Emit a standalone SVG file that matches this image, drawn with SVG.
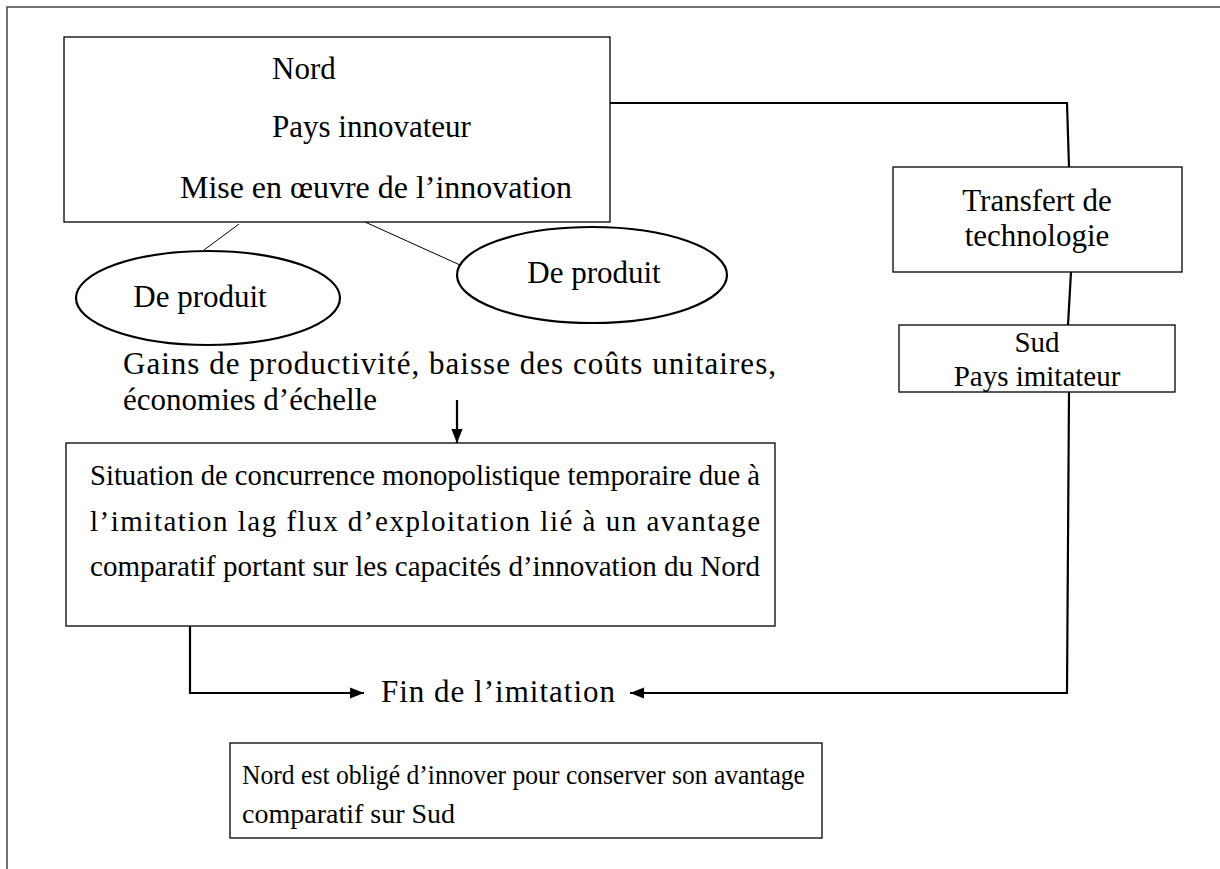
<svg xmlns="http://www.w3.org/2000/svg" width="1220" height="869" viewBox="0 0 1220 869">
<defs>
<style>
.box{fill:#fff;stroke:#000;stroke-width:1.3}
.ell{fill:#fff;stroke:#000;stroke-width:2.2}
.c{text-anchor:middle}
.ln{fill:none;stroke:#000;stroke-width:2.2}
.thin{fill:none;stroke:#000;stroke-width:1}
text{font-family:'Liberation Serif','Times New Roman','Noto Serif','DejaVu Serif',serif;font-size:31px;fill:#000}
.s29{font-size:29px}
.s28{font-size:28px}
</style>
<marker id="ah2" viewBox="0 0 10 10" refX="10" refY="5" markerWidth="14" markerHeight="14" markerUnits="userSpaceOnUse" orient="auto">
<path d="M0,1 L10,5 L0,9 z" fill="#000"/>
</marker>
</defs>
<rect width="1220" height="869" fill="#fff"/>
<path d="M7,869 V7 H1220" fill="none" stroke="#444" stroke-width="1.5"/>

<g id="connectors">
<path class="ln" d="M610,103 H1067 L1069,167"/>
<path class="ln" d="M1071,272 L1068,325"/>
<path class="ln" d="M1069,392 L1067,693 H630" marker-end="url(#ah2)"/>
<path class="ln" d="M190,626 V693 H364" marker-end="url(#ah2)"/>
<path class="ln" d="M457,400 V443" marker-end="url(#ah2)"/>
<line class="thin" x1="239" y1="224" x2="204" y2="250"/>
<line class="thin" x1="365" y1="222" x2="460" y2="265"/>
</g>

<g id="nord">
<rect class="box" x="64" y="37" width="546" height="185"/>
<text x="272" y="79">Nord</text>
<text x="272" y="137">Pays innovateur</text>
<text x="180" y="198" textLength="392" lengthAdjust="spacingAndGlyphs">Mise en œuvre de l’innovation</text>
</g>

<g id="produit1">
<ellipse class="ell" cx="208" cy="298" rx="132" ry="47"/>
<text class="c" x="200" y="307">De produit</text>
</g>

<g id="produit2">
<ellipse class="ell" cx="592" cy="275" rx="135" ry="48"/>
<text class="c" x="594" y="283">De produit</text>
</g>

<g id="transfert">
<rect class="box" x="893" y="167" width="289" height="105"/>
<text class="c" x="1037" y="211">Transfert de</text>
<text class="c" x="1037" y="246">technologie</text>
</g>

<g id="sud">
<rect class="box" x="899" y="325" width="276" height="67"/>
<text class="c s29" x="1037" y="352">Sud</text>
<text class="c s29" x="1037" y="386">Pays imitateur</text>
</g>

<g id="gains">
<text x="123" y="374" textLength="653" lengthAdjust="spacing">Gains de productivité, baisse des coûts unitaires,</text>
<text x="123" y="410">économies d’échelle</text>
</g>

<g id="situation">
<rect class="box" x="66" y="443" width="709" height="183"/>
<text class="s29" x="90" y="485" textLength="670" lengthAdjust="spacingAndGlyphs">Situation de concurrence monopolistique temporaire due à</text>
<text class="s29" x="90" y="531" textLength="670" lengthAdjust="spacing">l’imitation lag flux d’exploitation lié à un avantage</text>
<text class="s29" x="90" y="576" textLength="670" lengthAdjust="spacingAndGlyphs">comparatif portant sur les capacités d’innovation du Nord</text>
</g>

<g id="fin">
<text x="381" y="702" textLength="234" lengthAdjust="spacing">Fin de l’imitation</text>
</g>

<g id="conclusion">
<rect class="box" x="230" y="743" width="592" height="95"/>
<text class="s28" x="242" y="784" textLength="563" lengthAdjust="spacingAndGlyphs">Nord est obligé d’innover pour conserver son avantage</text>
<text class="s28" x="242" y="823">comparatif sur Sud</text>
</g>
</svg>
